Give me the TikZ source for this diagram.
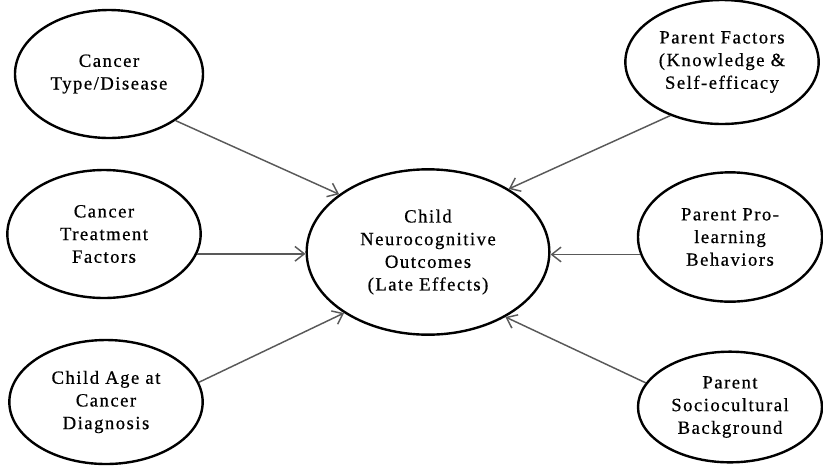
\documentclass[tikz,border=0pt]{standalone}
\usepackage{fontspec}
\setmainfont{Liberation Serif}
\usetikzlibrary{positioning,arrows.meta,shapes.geometric}

\begin{document}
\begin{tikzpicture}[x=0.75pt,y=-0.75pt,
    factor/.style={draw, ellipse, line width=1.8pt, inner sep=0pt, align=center,
        font=\addfontfeatures{LetterSpace=8,FakeBold=0.6}\fontsize{14}{17}\selectfont},
    outcome/.style={factor},
    link/.style={draw=black!65, line width=1.1pt, -{Straight Barb[length=7pt,width=11pt]}}]
        \useasboundingbox (0,0) rectangle (823,465);

        % Central outcome
        \node[outcome, minimum width=182pt, minimum height=124pt] (outcome) at (428,252)
            {Child\\Neurocognitive\\Outcomes\\(Late Effects)};

        % Child / cancer factors (left)
        \node[factor, minimum width=141pt, minimum height=96pt] (ctype) at (109,74)
            {Cancer\\Type/Disease};
        \node[factor, minimum width=145pt, minimum height=96pt] (ctreat) at (104,234)
            {Cancer\\Treatment\\Factors};
        \node[factor, minimum width=145pt, minimum height=93pt] (cage) at (106,402)
            {Child Age at\\Cancer\\Diagnosis};

        % Parent factors (right)
        \node[factor, minimum width=145pt, minimum height=93pt] (pfactors) at (722,62)
            {Parent Factors\\(Knowledge \&\\Self-efficacy};
        \node[factor, minimum width=138pt, minimum height=97pt] (plearn) at (730,237)
            {Parent Pro-\\learning\\Behaviors};
        \node[factor, minimum width=138pt, minimum height=83pt] (psocio) at (730,407)
            {Parent\\Sociocultural\\Background};

        % Links
        \draw[link] (ctype.-35) -- (outcome.147);
        \draw[link] (ctreat.-12) -- (ctreat.-12 -| outcome.west);
        \draw[link] (cage.12) -- (outcome.216);
        \draw[link] (pfactors.226) -- (outcome.38);
        \draw[link] (plearn.191) -- (plearn.191 -| outcome.east);
        \draw[link] (psocio.164) -- (outcome.320);
    \end{tikzpicture}
\end{document}
